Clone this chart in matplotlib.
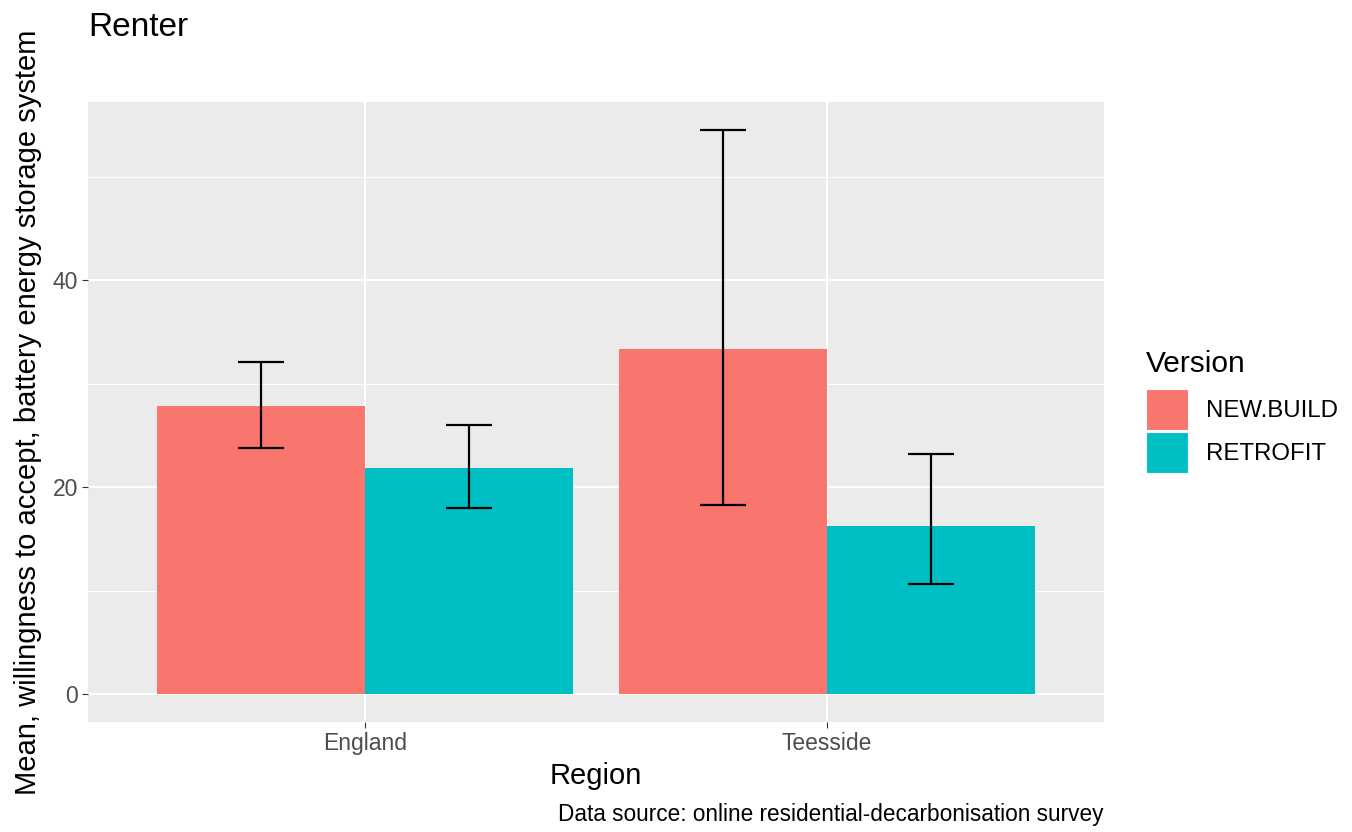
import matplotlib
matplotlib.use("Agg")
import matplotlib.pyplot as plt
from matplotlib.patches import Patch
import numpy as np

plt.rcParams['font.family'] = ['Liberation Sans', 'DejaVu Sans']

regions = ["England", "Teesside"]
versions = ["NEW.BUILD", "RETROFIT"]
means = {"NEW.BUILD": [27.8, 33.3], "RETROFIT": [21.8, 16.2]}
upper = {"NEW.BUILD": [32.1, 54.5], "RETROFIT": [26.0, 23.2]}
lower = {"NEW.BUILD": [23.8, 18.3], "RETROFIT": [18.0, 10.6]}
colors = {"NEW.BUILD": "#F8766D", "RETROFIT": "#00BFC4"}

fig = plt.figure(figsize=(13.52, 8.32), dpi=100)
ax = fig.add_axes([88 / 1352, 1 - 722 / 832, (1104 - 88) / 1352, (722 - 102) / 832])
ax.set_facecolor("#EBEBEB")

x = np.arange(1, len(regions) + 1)
width = 0.45
for i, v in enumerate(versions):
    pos = x + (i - 0.5) * width
    ax.bar(pos, means[v], width=width, color=colors[v], zorder=2)
    m = np.array(means[v])
    yerr = [m - np.array(lower[v]), np.array(upper[v]) - m]
    ax.errorbar(pos, m, yerr=yerr, fmt="none", ecolor="black", elinewidth=1.6,
                capsize=23 * 72 / 100, capthick=1.6, zorder=3)

ax.set_xlim(0.4, 2.6)
ax.set_ylim(-2.7, 57.2)
ax.set_yticks([0, 20, 40])
ax.set_yticks([10, 30, 50], minor=True)
ax.set_xticks(x)
ax.set_xticklabels(regions)
ax.grid(which="major", color="white", linewidth=1.4, zorder=0)
ax.grid(which="minor", axis="y", color="white", linewidth=0.7, zorder=0)
ax.set_axisbelow(True)
for s in ax.spines.values():
    s.set_visible(False)
ax.tick_params(which="major", length=4, color="#333333", labelsize=16.5,
               labelcolor="#4D4D4D", pad=3)
ax.tick_params(which="minor", length=0)

ax.set_xlabel("Region", fontsize=21, labelpad=5)
ax.set_ylabel("Mean, willingness to accept, battery energy storage system",
              fontsize=21, labelpad=8)
fig.text(88 / 1352, 1 - 28 / 832, "Renter", fontsize=24, ha="left", va="center")
fig.text(1104 / 1352, 1 - 815 / 832, "Data source: online residential-decarbonisation survey",
         fontsize=16.3, ha="right", va="center")

handles = [Patch(facecolor=colors[v], edgecolor="white", linewidth=1.5) for v in versions]
leg = fig.legend(handles, versions, title="Version", loc="upper left",
                 bbox_to_anchor=(1136 / 1352, 1 - 340 / 832), frameon=False,
                 fontsize=17.3, title_fontsize=21.5, handlelength=1.8, handleheight=2.3,
                 handletextpad=0.7, labelspacing=0.05, borderaxespad=0)
leg._legend_box.align = "left"
leg._legend_box.sep = 8

fig.savefig("out.png", dpi=100)
